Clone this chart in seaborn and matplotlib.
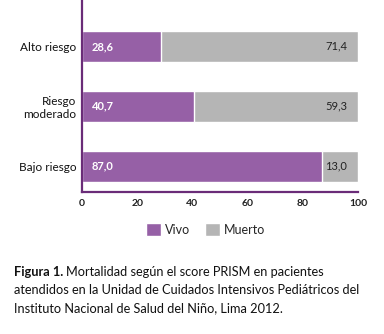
import matplotlib
matplotlib.use("Agg")
import matplotlib.pyplot as plt
import seaborn as sns
import pandas as pd
from matplotlib.patches import Patch

categories = ["Alto riesgo", "Riesgo\nmoderado", "Bajo riesgo"]
vivo = [28.6, 40.7, 87.0]
muerto = [71.4, 59.3, 13.0]
xticks = [0, 20, 40, 60, 80, 100]

PURPLE = "#9660a6"
GREY = "#b5b5b5"
SPINE = "#6a2c78"

sns.set_theme(style="white")
plt.rcParams["font.family"] = ["Lato", "DejaVu Sans"]

df = pd.DataFrame({"cat": categories, "vivo": vivo, "muerto": muerto})
df["total"] = df["vivo"] + df["muerto"]

fig = plt.figure(figsize=(3.84, 3.34), dpi=100)
ax = fig.add_axes([82/384, 1-192/334, (358-82)/384, 192/334])

sns.barplot(data=df, x="total", y="cat", color=GREY, orient="h", width=0.52, ax=ax, saturation=1)
sns.barplot(data=df, x="vivo", y="cat", color=PURPLE, orient="h", width=0.52, ax=ax, saturation=1)

for i, (v, m) in enumerate(zip(vivo, muerto)):
    ax.text(3.5, i, f"{v:.1f}".replace(".", ","), color="white", fontweight="bold",
            fontsize=8, va="center", ha="left")
    ax.text(96, i, f"{m:.1f}".replace(".", ","), color="#222222",
            fontsize=8, va="center", ha="right")

ax.set_xlim(0, 100)
ax.set_ylim(2.433, -0.775)
ax.set_xticks(xticks)
ax.set_xticklabels([str(t) for t in xticks], fontsize=7.5, fontweight="bold", color="#222222")
ax.tick_params(axis="y", labelsize=8.5, colors="#111111", length=0, pad=4)
ax.tick_params(axis="x", length=0, pad=5)
ax.set_xlabel("")
ax.set_ylabel("")
for s in ["top", "right"]:
    ax.spines[s].set_visible(False)
for s in ["left", "bottom"]:
    ax.spines[s].set_color(SPINE)
    ax.spines[s].set_linewidth(1.6)

handles = [Patch(facecolor=PURPLE, label="Vivo"), Patch(facecolor=GREY, label="Muerto")]
fig.legend(handles=handles, loc="upper center", bbox_to_anchor=(0.535, 1-212/334), ncol=2,
           frameon=False, fontsize=9, handlelength=1.2, handleheight=1.2,
           handletextpad=0.3, columnspacing=1.2)

cap_fs = 9.2
x0 = 14/384
y1 = 1-272/334
lh = 18/334
t_bold = fig.text(x0, y1, "Figura 1.", fontsize=cap_fs, fontweight="bold",
                  va="center", ha="left", color="#111111")
fig.canvas.draw()
bb = t_bold.get_window_extent(renderer=fig.canvas.get_renderer())
x_after = (bb.x1 + 3) / fig.bbox.width
fig.text(x_after, y1, "Mortalidad según el score PRISM en pacientes",
         fontsize=cap_fs, va="center", ha="left", color="#111111")
fig.text(x0, y1 - lh, "atendidos en la Unidad de Cuidados Intensivos Pediátricos del",
         fontsize=cap_fs, va="center", ha="left", color="#111111")
fig.text(x0, y1 - 2*lh, "Instituto Nacional de Salud del Niño, Lima 2012.",
         fontsize=cap_fs, va="center", ha="left", color="#111111")

fig.savefig("out.png", dpi=100)
